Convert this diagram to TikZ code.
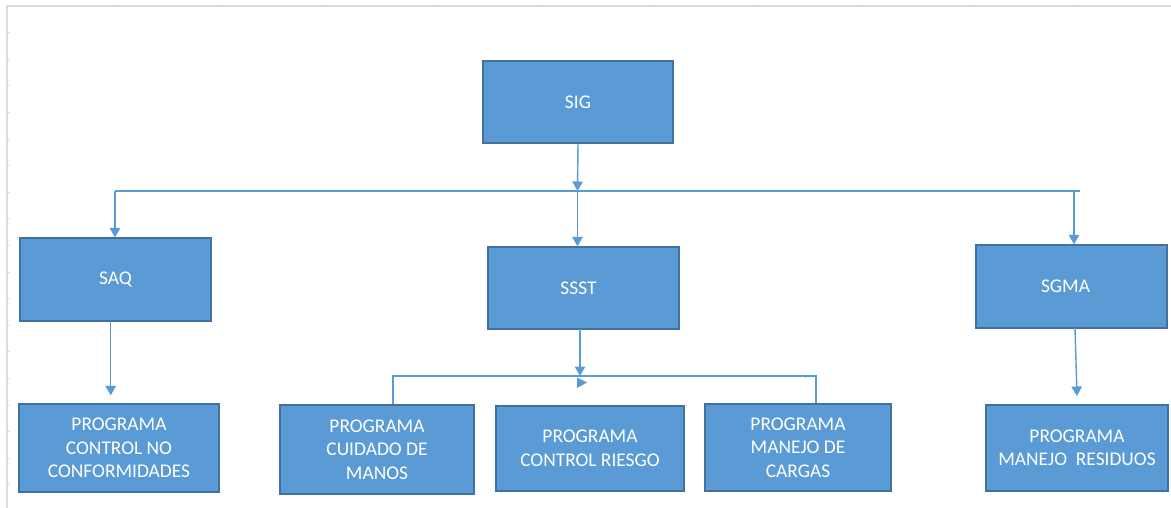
\documentclass[tikz,border=0pt]{standalone}
\usepackage{fontspec}
\setmainfont{Carlito}
\usetikzlibrary{arrows.meta}
\definecolor{boxfill}{HTML}{5B9BD5}
\definecolor{boxline}{HTML}{41719C}
\definecolor{wire}{HTML}{5B9BD5}
\definecolor{gridgray}{HTML}{DCDCDC}
\definecolor{tickgray}{HTML}{D0D0D0}
\tikzset{
  unit/.style={draw=boxline, line width=1.3pt, fill=boxfill, text=white,
    align=center, inner sep=0pt,
    font=\fontsize{19.4}{23.5}\selectfont},
  wireline/.style={draw=wire, line width=1.4pt},
  arr/.style={wireline, -{Triangle[width=10.5pt,length=9.5pt]}},
  sheet/.style={draw=gridgray, line width=1.6pt},
}
\begin{document}
\begin{tikzpicture}[x=1pt,y=-1pt]
\useasboundingbox (0,0) rectangle (1171,508);
\fill[white] (0,0) rectangle (1171,508);

% worksheet edges with their row and column marks
\draw[sheet] (6,6) -- (1171,6);
\draw[sheet] (7,6) -- (7,508);
\foreach \cx in {113,220,327,434,541,648,755,862,969,1076}
  \draw[tickgray, line width=1pt] (\cx,5) -- (\cx,7);
\foreach \k in {1,...,18}
  \draw[tickgray, line width=0.8pt] (7,{6+26.6*\k}) -- (8.8,{6+26.6*\k});

% boxes
\node[unit, minimum width=190pt, minimum height=82pt] (sig)  at (578,102)   {SIG};
\node[unit, minimum width=191pt, minimum height=83pt] (saq)  at (115.5,279.5) {SAQ};
\node[unit, minimum width=191pt, minimum height=82pt] (ssst) at (583.5,288) {\hspace*{-10pt}SSST};
\node[unit, minimum width=191pt, minimum height=83pt] (sgma) at (1071.5,286.5) {\hspace*{-12pt}SGMA};

\node[unit, minimum width=200pt, minimum height=88pt] (pnc)  at (119,448)
  {PROGRAMA\\CONTROL NO\\CONFORMIDADES};
\node[unit, minimum width=194pt, minimum height=89pt] (pman) at (377,449.5)
  {PROGRAMA\\CUIDADO DE\\MANOS};
\node[unit, minimum width=188pt, minimum height=85pt] (prie) at (590,448.5)
  {PROGRAMA\\CONTROL RIESGO};
\node[unit, minimum width=186pt, minimum height=87pt] (pcar) at (798,447.5)
  {PROGRAMA\\MANEJO DE\\CARGAS};
\node[unit, minimum width=182pt, minimum height=86pt] (pres) at (1077,448)
  {PROGRAMA\\MANEJO\ \ RESIDUOS};

% upper distribution line
\coordinate (busL) at (115,191);
\coordinate (busC) at (577.5,191);
\coordinate (busR) at (1080,191);
\coordinate (busG) at (1074,191);
\draw[wireline] (busL) -- (busR);
\draw[arr] (sig.south) -- (busC);
\draw[arr] (busL) -- (busL |- saq.north);
\draw[arr] (busC) -- (busC |- ssst.north);
\draw[arr] (busG) -- (busG |- sgma.north);

% SAQ and SGMA branches
\coordinate (saqOut) at (110.7,321);
\draw[arr] (saqOut) -- ([yshift=8pt]saqOut |- pnc.north);
\coordinate (sgmaOut) at (1075,328);
\coordinate (sgmaIn) at (1077,396);
\draw[arr] (sgmaOut) -- (sgmaIn);

% SSST branch line
\coordinate (subL) at (393,376);
\coordinate (subC) at (580,376);
\coordinate (subR) at (816,376);
\draw[arr] (580,329) -- (subC);
\draw[wireline] (subL |- pman.north) -- (subL) -- (subR) -- (subR |- pcar.north);
\fill[wire] (577,377.5) -- (587,382.5) -- (577,388) -- cycle;
\fill[wire] (805,375.2) -- (810,376.2) -- (805,377.6) -- cycle;
\end{tikzpicture}
\end{document}
